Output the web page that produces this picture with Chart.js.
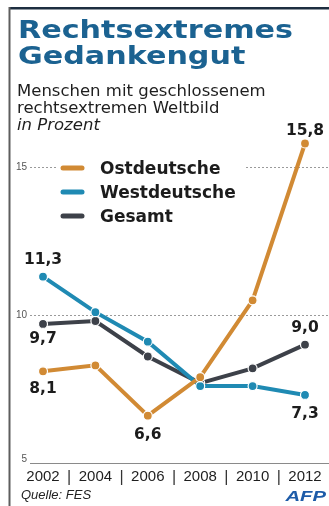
<!DOCTYPE html>
<html>
<head>
<meta charset="utf-8">
<script src="https://cdn.jsdelivr.net/npm/chart.js@4.4.1/dist/chart.umd.min.js"></script>
<style>
  html, body { margin: 0; padding: 0; background: #fff; }
  canvas { display: block; }
</style>
</head>
<body>
<canvas id="chart" width="329" height="506"></canvas>
<script>
// ---- data ----
const years = ['2002', '2004', '2006', '2008', '2010', '2012'];
const ostdeutsche = [8.1, 8.3, 6.6, 7.9, 10.5, 15.8];
const westdeutsche = [11.3, 10.1, 9.1, 7.6, 7.6, 7.3];
const gesamt = [9.7, 9.8, 8.6, 7.7, 8.2, 9.0];
const seriesNames = ['Ostdeutsche', 'Westdeutsche', 'Gesamt'];
const yTicks = [5, 10, 15];
// points whose value is printed: [series index, point index]
const labelledPoints = [[0, 0], [0, 2], [0, 5], [1, 0], [1, 5], [2, 0], [2, 5]];

// ---- styling ----
const COLORS = ['#d18a34', '#1f8ab3', '#3d4149'];
const TITLE_BLUE = '#1b6291';
// vertical offset of each printed value from its point (centre of text)
const LABEL_DY = { '0,0': 18, '0,2': 19, '0,5': -13, '1,0': -17, '1,5': 19, '2,0': 15, '2,5': -17 };

const fmt = v => v.toFixed(1).replace('.', ',');

function drawText(ctx, str, x, y, font, color, align, scaleX, baseline) {
  ctx.save();
  ctx.font = font;
  ctx.fillStyle = color;
  ctx.textAlign = align || 'left';
  ctx.textBaseline = baseline || 'alphabetic';
  ctx.translate(x, y);
  ctx.scale(scaleX || 1, 1);
  ctx.fillText(str, 0, 0);
  ctx.restore();
}

// background, frame, heading and footer
const framePlugin = {
  id: 'frame',
  beforeDraw(chart) {
    const ctx = chart.ctx;
    ctx.save();
    ctx.fillStyle = '#fff';
    ctx.fillRect(0, 0, chart.width, chart.height);
    ctx.fillStyle = '#1d2e40';
    ctx.fillRect(9, 7, chart.width - 9, 2.5);
    ctx.fillStyle = '#5e5e5e';
    ctx.fillRect(8.5, 7, 2, chart.height - 7);
    ctx.restore();

    // title, stretched to the heading width
    const tFont = 'bold 25px "DejaVu Sans"';
    ctx.save();
    ctx.font = tFont;
    const sx = 275 / ctx.measureText('Rechtsextremes').width;
    ctx.restore();
    drawText(ctx, 'Rechtsextremes', 18, 38, tFont, TITLE_BLUE, 'left', sx);
    drawText(ctx, 'Gedankengut', 18, 64, tFont, TITLE_BLUE, 'left', sx);

    const sFont = '16.5px "DejaVu Sans"';
    drawText(ctx, 'Menschen mit geschlossenem', 17, 96, sFont, '#1e1e1e');
    drawText(ctx, 'rechtsextremen Weltbild', 17, 113, sFont, '#1e1e1e');
    drawText(ctx, 'in Prozent', 17, 130, 'italic 16.5px "DejaVu Sans"', '#1e1e1e');

    drawText(ctx, 'Quelle: FES', 21, 499, 'italic 13px "Liberation Sans"', '#222');
    drawText(ctx, 'AFP', 326, 501, 'italic bold 15px "Liberation Sans"', '#1d5ba8', 'right', 1.35);
  }
};

// grid lines, axis labels and legend
const axesPlugin = {
  id: 'axesDecor',
  beforeDatasetsDraw(chart) {
    const ctx = chart.ctx;
    const y = chart.scales.y, x = chart.scales.x;
    const left = 30, right = chart.width;

    yTicks.forEach((v, i) => {
      const py = Math.round(y.getPixelForValue(v)) + 0.5;
      ctx.save();
      ctx.beginPath();
      ctx.moveTo(left, py);
      ctx.lineTo(right, py);
      ctx.lineWidth = 1;
      if (i === 0) {
        ctx.strokeStyle = '#8a8a8a';
      } else {
        ctx.strokeStyle = '#9a9a9a';
        ctx.setLineDash([2, 2]);
      }
      ctx.stroke();
      ctx.restore();
      drawText(ctx, String(v), 27, py + (i === 0 ? -4 : 0), '10px "Liberation Sans"', '#555', 'right', 1, 'middle');
    });

    // year labels with separators between them
    years.forEach((lab, i) => {
      const px = x.getPixelForValue(i);
      drawText(ctx, lab, px, 481, '15px "Liberation Sans"', '#1e1e1e', 'center');
      if (i < years.length - 1) {
        const mid = (px + x.getPixelForValue(i + 1)) / 2;
        drawText(ctx, '|', mid, 482, '16px "Liberation Sans"', '#333', 'center');
      }
    });

    // legend box
    ctx.save();
    ctx.fillStyle = '#fff';
    ctx.fillRect(57, 153, 188, 76);
    ctx.restore();
    chart.data.datasets.forEach((ds, i) => {
      const cy = 168 + i * 24;
      ctx.save();
      ctx.strokeStyle = ds.borderColor;
      ctx.lineWidth = 5;
      ctx.lineCap = 'round';
      ctx.beginPath();
      ctx.moveTo(63, cy);
      ctx.lineTo(82, cy);
      ctx.stroke();
      ctx.restore();
      drawText(ctx, ds.label, 100, cy + 6, 'bold 17px "DejaVu Sans"', '#1c1c1c');
    });
  },
  afterDatasetsDraw(chart) {
    const ctx = chart.ctx;
    labelledPoints.forEach(([s, i]) => {
      const el = chart.getDatasetMeta(s).data[i];
      const v = chart.data.datasets[s].data[i];
      const dy = LABEL_DY[s + ',' + i];
      drawText(ctx, fmt(v), el.x, el.y + dy, 'bold 15.5px "DejaVu Sans"', '#1c1c1c', 'center', 1, 'middle');
    });
  }
};

const series = [ostdeutsche, westdeutsche, gesamt];
const datasets = series.map((data, i) => ({
  label: seriesNames[i],
  data: data,
  borderColor: COLORS[i],
  backgroundColor: COLORS[i],
  borderWidth: 4,
  pointRadius: 4.5,
  pointBorderWidth: 1.2,
  pointBorderColor: '#ffffff',
  pointBackgroundColor: COLORS[i],
  tension: 0,
  clip: false
}));

new Chart(document.getElementById('chart'), {
  type: 'line',
  data: { labels: years, datasets: datasets },
  options: {
    responsive: false,
    animation: false,
    devicePixelRatio: 1,
    layout: { padding: { left: 43, right: 24, top: 108, bottom: 43 } },
    scales: {
      x: { type: 'category', offset: false, display: false },
      y: { type: 'linear', min: 5, max: 17, display: false }
    },
    plugins: {
      legend: { display: false },
      tooltip: { enabled: false }
    }
  },
  plugins: [framePlugin, axesPlugin]
});
</script>
</body>
</html>
